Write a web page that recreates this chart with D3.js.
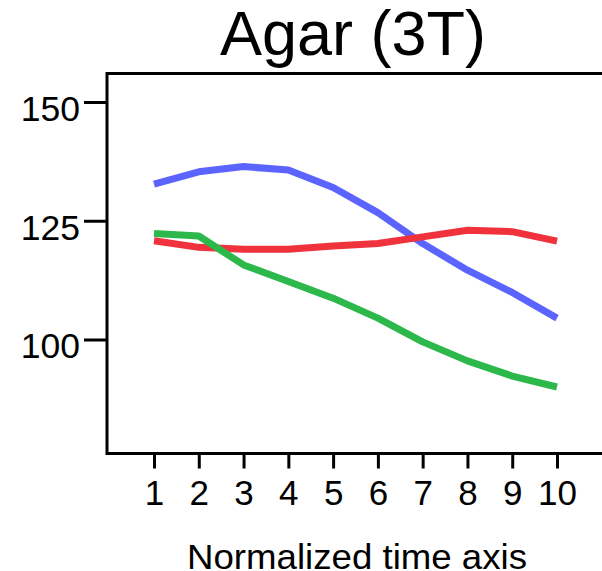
<!DOCTYPE html>
<html>
<head>
<meta charset="utf-8">
<script src="https://cdn.jsdelivr.net/npm/d3@7"></script>
<style>
  body { margin: 0; background: #fff; }
  svg { display: block; font-family: "Liberation Sans", Arial, sans-serif; }
</style>
</head>
<body>
<div id="chart"></div>
<script>
// data
const timePoints = [1, 2, 3, 4, 5, 6, 7, 8, 9, 10];
const blueValues = [132.7, 135.3, 136.4, 135.7, 132.0, 126.7, 120.2, 114.6, 109.9, 104.5];
const redValues = [120.8, 119.4, 119.0, 119.0, 119.7, 120.2, 121.6, 123.0, 122.7, 120.7];
const greenValues = [122.3, 121.8, 115.7, 112.2, 108.7, 104.5, 99.5, 95.5, 92.3, 90.0];
const yTicks = [100, 125, 150];
const seriesColors = ["#5c64ff", "#f0323c", "#2db84b"];

const width = 602, height = 571;
const margin = { top: 73.5, right: -8, bottom: 117.5, left: 107 };

const svg = d3.select("#chart")
  .append("svg")
  .attr("width", width)
  .attr("height", height);

// scales
const x = d3.scaleLinear()
  .domain([1, 10])
  .range([154, 557]);

const y = d3.scaleLinear()
  .domain([76, 156])
  .range([height - margin.bottom, margin.top]);

// frame (right edge runs off the page)
svg.append("rect")
  .attr("x", margin.left)
  .attr("y", margin.top)
  .attr("width", width - margin.left - margin.right)
  .attr("height", height - margin.top - margin.bottom)
  .attr("fill", "none")
  .attr("stroke", "#000")
  .attr("stroke-width", 3);

// y axis
const yAxis = svg.append("g")
  .attr("transform", `translate(${margin.left},0)`)
  .call(d3.axisLeft(y).tickValues(yTicks).tickSize(23).tickPadding(4));
yAxis.select(".domain").remove();
yAxis.selectAll(".tick line").attr("stroke-width", 3);
yAxis.selectAll(".tick text")
  .attr("font-size", 35.5)
  .attr("font-family", "Liberation Sans, Arial, sans-serif")
  .attr("fill", "#000")
  .attr("dy", "0.52em");

// x axis
const xAxis = svg.append("g")
  .attr("transform", `translate(0,${height - margin.bottom})`)
  .call(d3.axisBottom(x).tickValues(timePoints).tickSize(15));
xAxis.select(".domain").remove();
xAxis.selectAll(".tick line").attr("stroke-width", 3).attr("y1", 1.5);
xAxis.selectAll(".tick text")
  .attr("font-size", 35)
  .attr("font-family", "Liberation Sans, Arial, sans-serif")
  .attr("fill", "#000")
  .attr("y", 51.5)
  .attr("dy", 0);

// lines
const series = [blueValues, redValues, greenValues];
const line = d3.line()
  .x((d, i) => x(timePoints[i]))
  .y((d) => y(d));

svg.append("g")
  .selectAll("path")
  .data(series)
  .enter()
  .append("path")
  .attr("d", line)
  .attr("fill", "none")
  .attr("stroke", (d, i) => seriesColors[i])
  .attr("stroke-width", 7)
  .attr("stroke-linejoin", "round");

// title
svg.append("text")
  .attr("x", 353)
  .attr("y", 55)
  .attr("text-anchor", "middle")
  .attr("font-size", 63)
  .text("Agar (3T)");

// x axis label
svg.append("text")
  .attr("x", 357)
  .attr("y", 569)
  .attr("text-anchor", "middle")
  .attr("font-size", 35)
  .attr("textLength", 340)
  .attr("lengthAdjust", "spacingAndGlyphs")
  .text("Normalized time axis");
</script>
</body>
</html>
